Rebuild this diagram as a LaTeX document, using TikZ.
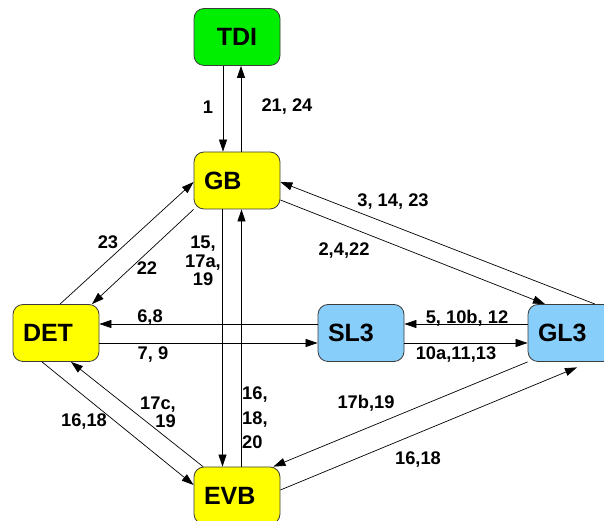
\documentclass[tikz,border=0pt]{standalone}
\usepackage{fontspec}
\setmainfont{Liberation Sans}
\usetikzlibrary{arrows.meta}
\definecolor{boxgreen}{RGB}{0,238,0}
\definecolor{boxyellow}{RGB}{255,255,0}
\definecolor{boxblue}{RGB}{135,206,250}
\definecolor{boxline}{RGB}{60,60,60}
\begin{document}
\begin{tikzpicture}[x=1pt,y=1pt,
  box/.style={draw=boxline, line width=0.8pt, rounded corners=10pt,
    minimum width=86pt, minimum height=57pt, inner ysep=0pt, inner xsep=10pt,
    text width=66pt, align=left, font=\bfseries\fontsize{25}{25}\selectfont},
  conn/.style={line width=0.7pt, -{Triangle[length=12pt,width=8pt]}},
  lbl/.style={inner sep=0pt, align=center, font=\bfseries\fontsize{18.3}{18.5}\selectfont}]
\useasboundingbox (0,0) rectangle (604,521);
\clip (0,0) rectangle (604,521);

% states
\node[box, fill=boxgreen, align=center] (TDI) at (237,484) {TDI};
\node[box, fill=boxyellow] (GB)  at (237,340.5) {GB};
\node[box, fill=boxyellow] (DET) at (56,188)    {DET};
\node[box, fill=boxblue]   (SL3) at (361,188)   {SL3};
\node[box, fill=boxblue]   (GL3) at (571,188)   {GL3};
\node[box, fill=boxyellow] (EVB) at (237,25.5)  {EVB};

% TDI <-> GB
\draw[conn] ([xshift=-14pt]TDI.south) -- ([xshift=-14pt]GB.north);
\draw[conn] ([xshift=4pt]GB.north) -- ([xshift=4pt]TDI.south);
\node[lbl] (l1)  at (208,414) {1};
\node[lbl] (l2)  at (287,414) {21, 24};

% GB <-> GL3
\draw[conn] ([xshift=24pt]GL3.north) -- ([yshift=-1.5pt]GB.east);
\draw[conn] ([yshift=-19.5pt]GB.east) -- ([xshift=-26pt]GL3.north);
\node[lbl] (l3) at (393,319) {3, 14, 23};
\node[lbl] (l4) at (344,270) {2,4,22};

% DET <-> GB
\draw[conn] ([xshift=4pt]DET.north) -- ([yshift=-1.5pt]GB.west);
\draw[conn] (GB.south west) -- ([xshift=36pt]DET.north);
\node[lbl] (l5) at (108,279) {23};
\node[lbl] (l6) at (147,253) {22};

% GB <-> EVB
\draw[conn] ([xshift=-14.5pt]GB.south) -- ([xshift=-14.5pt]EVB.north);
\draw[conn] ([xshift=4.5pt]EVB.north) -- ([xshift=4.5pt]GB.south);
\node[lbl] (l7) at (203,260) {15,\\17a,\\19};
\node[lbl, anchor=west, align=left, font=\bfseries\fontsize{18.3}{24.5}\selectfont]
  (l8) at (242,103) {16,\\18,\\20};

% DET <-> SL3
\draw[conn] ([yshift=9pt]SL3.west) -- ([yshift=9pt]DET.east);
\draw[conn] ([yshift=-10pt]DET.east) -- ([yshift=-10pt]SL3.west);
\node[lbl] (l9)  at (150,203) {6,8};
\node[lbl] (l10) at (153,166) {7, 9};

% SL3 <-> GL3
\draw[conn] ([yshift=9pt]GL3.west) -- ([yshift=9pt]SL3.east);
\draw[conn] ([yshift=-10pt]SL3.east) -- ([yshift=-10pt]GL3.west);
\node[lbl] (l11) at (467,203) {5, 10b, 12};
\node[lbl] (l12) at (456,166) {10a,11,13};

% DET <-> EVB
\draw[conn] ([xshift=-14pt]DET.south) -- ([yshift=10.5pt]EVB.west);
\draw[conn] ([xshift=-34pt]EVB.north) -- ([xshift=15pt]DET.south);
\node[lbl] (l13) at (84,99) {16,18};
\node[lbl, anchor=east, align=right] (l14) at (176,108.5) {17c,\\19};

% GL3 <-> EVB
\draw[conn] (GL3.south west) -- ([xshift=-7pt]EVB.north east);
\draw[conn] ([yshift=5.5pt]EVB.east) -- ([shift={(6pt,-5.5pt)}]GL3.south);
\node[lbl] (l15) at (366,118) {17b,19};
\node[lbl] (l16) at (418,61) {16,18};
\end{tikzpicture}
\end{document}
